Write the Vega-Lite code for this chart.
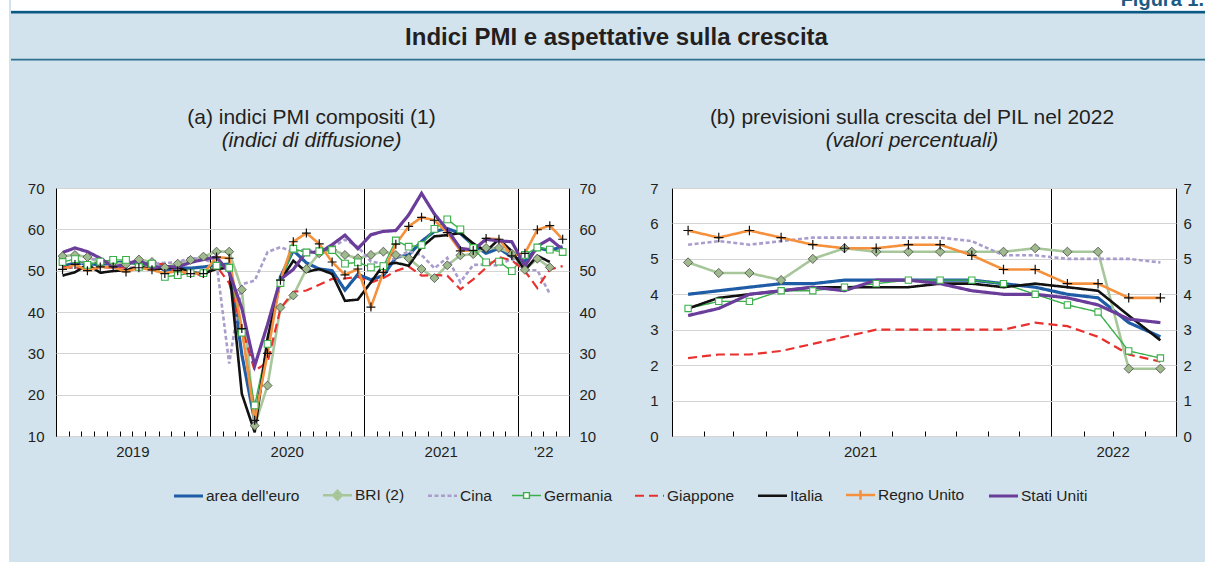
{
  "$schema": "https://vega.github.io/schema/vega-lite/v6.json",
  "background": "#d3e3ed",
  "padding": 0,
  "autosize": {"type": "pad"},
  "spacing": 0,
  "config": {
    "font": "Liberation Sans",
    "view": {"stroke": null},
    "axis": {"labelFont": "Liberation Sans", "labelFontSize": 15, "labelColor": "#231f20", "domain": false, "title": null},
    "title": {"font": "Liberation Sans", "fontSize": 21, "fontWeight": "normal", "color": "#231f20", "subtitleFont": "Liberation Sans", "subtitleFontSize": 21, "subtitleFontStyle": "italic", "subtitleColor": "#231f20", "subtitlePadding": 2, "offset": 30, "anchor": "middle", "frame": "group"}
  },
  "datasets": {
    "pmi": [
      {"d":"2019-01","euro":51.0,"bri":53.5,"cina":50.9,"ger":52.1,"jap":50.9,"ita":48.8,"uk":50.3,"us":54.4},
      {"d":"2019-02","euro":51.9,"bri":53.8,"cina":50.7,"ger":52.8,"jap":50.7,"ita":49.6,"uk":51.5,"us":55.5},
      {"d":"2019-03","euro":51.6,"bri":53.3,"cina":52.9,"ger":51.4,"jap":50.4,"ita":51.5,"uk":50.0,"us":54.6},
      {"d":"2019-04","euro":51.5,"bri":51.9,"cina":52.7,"ger":52.2,"jap":50.8,"ita":49.5,"uk":50.9,"us":53.0},
      {"d":"2019-05","euro":51.8,"bri":52.0,"cina":51.5,"ger":52.6,"jap":50.7,"ita":49.9,"uk":50.9,"us":50.9},
      {"d":"2019-06","euro":52.2,"bri":51.5,"cina":50.6,"ger":52.6,"jap":50.8,"ita":50.1,"uk":49.7,"us":51.5},
      {"d":"2019-07","euro":51.5,"bri":52.7,"cina":50.9,"ger":50.9,"jap":50.6,"ita":51.0,"uk":50.7,"us":52.6},
      {"d":"2019-08","euro":51.9,"bri":52.1,"cina":51.6,"ger":51.7,"jap":51.9,"ita":50.3,"uk":50.2,"us":50.7},
      {"d":"2019-09","euro":50.1,"bri":50.8,"cina":51.9,"ger":48.5,"jap":51.5,"ita":50.6,"uk":49.3,"us":51.0},
      {"d":"2019-10","euro":50.6,"bri":51.7,"cina":52.0,"ger":48.9,"jap":49.1,"ita":50.8,"uk":50.0,"us":50.9},
      {"d":"2019-11","euro":50.6,"bri":52.6,"cina":53.2,"ger":49.4,"jap":49.8,"ita":49.6,"uk":49.3,"us":52.0},
      {"d":"2019-12","euro":50.9,"bri":53.4,"cina":52.6,"ger":49.4,"jap":48.6,"ita":49.3,"uk":49.3,"us":52.7},
      {"d":"2020-01","euro":51.3,"bri":54.6,"cina":51.9,"ger":51.2,"jap":51.1,"ita":50.4,"uk":53.3,"us":53.3},
      {"d":"2020-02","euro":51.6,"bri":54.6,"cina":27.5,"ger":50.7,"jap":47.0,"ita":50.7,"uk":53.0,"us":49.6},
      {"d":"2020-03","euro":29.7,"bri":45.4,"cina":46.7,"ger":35.0,"jap":36.2,"ita":20.2,"uk":36.0,"us":40.9},
      {"d":"2020-04","euro":13.6,"bri":12.5,"cina":47.6,"ger":17.4,"jap":25.8,"ita":10.9,"uk":13.8,"us":27.0},
      {"d":"2020-05","euro":31.9,"bri":22.2,"cina":54.5,"ger":32.3,"jap":27.8,"ita":33.7,"uk":30.0,"us":37.0},
      {"d":"2020-06","euro":48.5,"bri":41.1,"cina":55.7,"ger":47.0,"jap":40.8,"ita":47.6,"uk":47.7,"us":47.9},
      {"d":"2020-07","euro":54.9,"bri":44.0,"cina":54.5,"ger":55.3,"jap":44.9,"ita":52.4,"uk":57.0,"us":50.3},
      {"d":"2020-08","euro":51.9,"bri":50.4,"cina":55.1,"ger":54.4,"jap":45.2,"ita":49.7,"uk":59.1,"us":54.6},
      {"d":"2020-09","euro":50.4,"bri":54.2,"cina":54.5,"ger":54.7,"jap":46.6,"ita":50.4,"uk":56.5,"us":54.3},
      {"d":"2020-10","euro":50.0,"bri":55.1,"cina":55.7,"ger":55.0,"jap":48.0,"ita":49.2,"uk":52.1,"us":56.3},
      {"d":"2020-11","euro":45.3,"bri":53.8,"cina":57.5,"ger":51.7,"jap":48.1,"ita":42.7,"uk":49.0,"us":58.6},
      {"d":"2020-12","euro":49.1,"bri":53.0,"cina":55.8,"ger":52.0,"jap":48.5,"ita":43.0,"uk":50.4,"us":55.3},
      {"d":"2021-01","euro":47.8,"bri":53.8,"cina":52.2,"ger":50.8,"jap":47.1,"ita":47.2,"uk":41.2,"us":58.7},
      {"d":"2021-02","euro":48.8,"bri":54.6,"cina":51.7,"ger":51.1,"jap":48.2,"ita":51.4,"uk":49.6,"us":59.5},
      {"d":"2021-03","euro":53.2,"bri":53.8,"cina":53.1,"ger":57.3,"jap":49.9,"ita":51.9,"uk":56.4,"us":59.7},
      {"d":"2021-04","euro":53.8,"bri":53.0,"cina":54.7,"ger":55.8,"jap":51.0,"ita":51.2,"uk":60.7,"us":63.5},
      {"d":"2021-05","euro":57.1,"bri":50.4,"cina":53.8,"ger":56.2,"jap":48.8,"ita":55.7,"uk":62.9,"us":68.7},
      {"d":"2021-06","euro":59.5,"bri":48.2,"cina":50.6,"ger":60.1,"jap":48.9,"ita":58.3,"uk":62.2,"us":63.7},
      {"d":"2021-07","euro":60.2,"bri":51.3,"cina":53.1,"ger":62.4,"jap":48.8,"ita":58.6,"uk":59.2,"us":59.9},
      {"d":"2021-08","euro":59.0,"bri":53.7,"cina":47.2,"ger":60.0,"jap":45.5,"ita":59.1,"uk":54.8,"us":55.4},
      {"d":"2021-09","euro":56.2,"bri":54.0,"cina":51.4,"ger":55.5,"jap":47.9,"ita":56.6,"uk":54.9,"us":55.0},
      {"d":"2021-10","euro":54.2,"bri":55.5,"cina":51.5,"ger":52.0,"jap":50.7,"ita":54.7,"uk":57.8,"us":57.6},
      {"d":"2021-11","euro":55.4,"bri":55.5,"cina":51.2,"ger":52.2,"jap":53.3,"ita":57.6,"uk":57.6,"us":57.2},
      {"d":"2021-12","euro":53.3,"bri":54.1,"cina":53.0,"ger":49.9,"jap":52.5,"ita":54.7,"uk":53.6,"us":57.0},
      {"d":"2022-01","euro":52.3,"bri":50.2,"cina":50.1,"ger":53.8,"jap":49.9,"ita":50.1,"uk":54.2,"us":51.1},
      {"d":"2022-02","euro":55.5,"bri":52.9,"cina":50.1,"ger":55.6,"jap":45.8,"ita":53.6,"uk":59.9,"us":55.9},
      {"d":"2022-03","euro":54.9,"bri":50.8,"cina":44.4,"ger":55.1,"jap":50.3,"ita":52.1,"uk":60.9,"us":57.7},
      {"d":"2022-04","euro":55.8,"bri":null,"cina":null,"ger":54.5,"jap":51.1,"ita":null,"uk":57.6,"us":55.1}
    ],
    "gdp": [
      {"d":"2021-01","euro":4.0,"bri":4.9,"cina":5.4,"ger":3.6,"jap":2.2,"ita":3.6,"uk":5.8,"us":3.4},
      {"d":"2021-02","euro":4.1,"bri":4.6,"cina":5.5,"ger":3.8,"jap":2.3,"ita":3.9,"uk":5.6,"us":3.6},
      {"d":"2021-03","euro":4.2,"bri":4.6,"cina":5.4,"ger":3.8,"jap":2.3,"ita":4.0,"uk":5.8,"us":4.0},
      {"d":"2021-04","euro":4.3,"bri":4.4,"cina":5.5,"ger":4.1,"jap":2.4,"ita":4.1,"uk":5.6,"us":4.1},
      {"d":"2021-05","euro":4.3,"bri":5.0,"cina":5.6,"ger":4.1,"jap":2.6,"ita":4.2,"uk":5.4,"us":4.2},
      {"d":"2021-06","euro":4.4,"bri":5.3,"cina":5.6,"ger":4.2,"jap":2.8,"ita":4.2,"uk":5.3,"us":4.1},
      {"d":"2021-07","euro":4.4,"bri":5.2,"cina":5.6,"ger":4.3,"jap":3.0,"ita":4.2,"uk":5.3,"us":4.4},
      {"d":"2021-08","euro":4.4,"bri":5.2,"cina":5.6,"ger":4.4,"jap":3.0,"ita":4.2,"uk":5.4,"us":4.4},
      {"d":"2021-09","euro":4.4,"bri":5.2,"cina":5.6,"ger":4.4,"jap":3.0,"ita":4.3,"uk":5.4,"us":4.3},
      {"d":"2021-10","euro":4.4,"bri":5.2,"cina":5.5,"ger":4.4,"jap":3.0,"ita":4.3,"uk":5.1,"us":4.1},
      {"d":"2021-11","euro":4.3,"bri":5.2,"cina":5.1,"ger":4.3,"jap":3.0,"ita":4.2,"uk":4.7,"us":4.0},
      {"d":"2021-12","euro":4.2,"bri":5.3,"cina":5.1,"ger":4.0,"jap":3.2,"ita":4.3,"uk":4.7,"us":4.0},
      {"d":"2022-01","euro":4.0,"bri":5.2,"cina":5.0,"ger":3.7,"jap":3.1,"ita":4.2,"uk":4.3,"us":3.9},
      {"d":"2022-02","euro":3.9,"bri":5.2,"cina":5.0,"ger":3.5,"jap":2.8,"ita":4.1,"uk":4.3,"us":3.7},
      {"d":"2022-03","euro":3.2,"bri":1.9,"cina":5.0,"ger":2.4,"jap":2.3,"ita":3.4,"uk":3.9,"us":3.3},
      {"d":"2022-04","euro":2.8,"bri":1.9,"cina":4.9,"ger":2.2,"jap":2.1,"ita":2.7,"uk":3.9,"us":3.2}
    ]
  },
  "hconcat": [
    {
      "width": 9, "height": 562,
      "view": {"fill": "white", "stroke": null},
      "data": {"values": []},
      "mark": "point"
    },
    {
      "concat": [
        {
          "width": 1151, "height": 106,
          "data": {"values": [{"label": "Figura 1."}]},
          "layer": [
            {"mark": {"type": "rect", "color": "white", "opacity": 1},
             "encoding": {
               "x": {"datum": 9, "type": "quantitative", "scale": {"domain": [54, 1205]}, "axis": null},
               "x2": {"datum": 1205},
               "y": {"datum": 0, "type": "quantitative", "scale": {"domain": [0, 106], "reverse": true}, "axis": null},
               "y2": {"datum": 10}}},
            {"mark": {"type": "text", "clip": true, "align": "right", "baseline": "alphabetic", "fontSize": 20, "fontWeight": "bold", "color": "#1c5b85"},
             "encoding": {
               "text": {"field": "label"},
               "x": {"datum": 1202, "type": "quantitative", "scale": {"domain": [54, 1205]}, "axis": null},
               "y": {"datum": 6, "type": "quantitative", "scale": {"domain": [0, 106], "reverse": true}, "axis": null}}},
            {"mark": {"type": "rule", "color": "#0b5a83", "strokeWidth": 2.6},
             "encoding": {
               "x": {"datum": 9, "type": "quantitative", "scale": {"domain": [54, 1205]}, "axis": null},
               "x2": {"datum": 1205},
               "y": {"datum": 12.2, "type": "quantitative", "scale": {"domain": [0, 106], "reverse": true}, "axis": null}}},
            {"mark": {"type": "rule", "color": "#2d6f8f", "strokeWidth": 1.6},
             "encoding": {
               "x": {"datum": 9, "type": "quantitative", "scale": {"domain": [54, 1205]}, "axis": null},
               "x2": {"datum": 1205},
               "y": {"datum": 59.6, "type": "quantitative", "scale": {"domain": [0, 106], "reverse": true}, "axis": null}}},
            {"mark": {"type": "text", "fontSize": 24, "fontWeight": "bold", "color": "#231f20", "baseline": "alphabetic", "align": "center"},
             "encoding": {
               "text": {"value": "Indici PMI e aspettative sulla crescita"},
               "x": {"datum": 614.5, "type": "quantitative", "scale": {"domain": [54, 1205]}, "axis": null},
               "y": {"datum": 45, "type": "quantitative", "scale": {"domain": [0, 106], "reverse": true}, "axis": null}}}
          ]
        },
        {
          "spacing": 0,
          "hconcat": [
            {
              "width": 513, "height": 248,
              "view": {"fill": "white", "stroke": "black", "strokeWidth": 1},
              "title": {"text": "(a) indici PMI compositi (1)", "subtitle": "(indici di diffusione)", "dx": -1},
              "data": {"name": "pmi"},
              "transform": [
                {"fold": ["euro", "bri", "cina", "ger", "jap", "ita", "uk", "us"], "as": ["s", "v"]},
                {"filter": "isValid(datum.v)"}
              ],
              "encoding": {
                "x": {"field": "d", "type": "temporal", "timeUnit": "utcyearmonth", "bandPosition": 0.5,
                  "scale": {"domain": [{"year": 2019, "month": 1, "date": 1, "utc": true}, {"year": 2022, "month": 5, "date": 1, "utc": true}], "nice": false},
                  "axis": {"title": null, "tickCount": {"interval": "month", "step": 1}, "labelExpr": "utcmonth(datum.value) === 6 && utcyear(datum.value) < 2022 ? utcFormat(datum.value, '%Y') : (utcyear(datum.value) === 2022 && utcmonth(datum.value) === 2 ? \"'22\" : '')", "labelOverlap": false, "labelFlush": false, "labelAngle": 0, "labelPadding": 13, "tickSize": -5, "tickColor": "black", "tickWidth": 1, "grid": true, "gridColor": {"condition": {"test": "utcmonth(datum.value) === 0", "value": "black"}, "value": "transparent"}, "gridWidth": 1}}
              },
              "layer": [
                {
                  "mark": {"type": "line"},
                  "encoding": {
                    "y": {"field": "v", "type": "quantitative", "scale": {"domain": [10, 70], "nice": false, "zero": false},
                      "axis": {"orient": "left", "title": null, "values": [10, 20, 30, 40, 50, 60, 70], "grid": true, "gridColor": "#d4d4d4", "gridWidth": 1, "ticks": false, "labelPadding": 12, "minExtent": 44, "maxExtent": 44}},
                    "stroke": {"field": "s", "type": "nominal", "scale": {"domain": ["euro", "bri", "cina", "ger", "jap", "ita", "uk", "us"], "range": ["#1f5ca6", "#a7c79a", "#a99dcc", "#3aaf4a", "#e8312f", "#111111", "#f5913d", "#6b3d9b"]},
                      "legend": {"orient": "none", "legendX": 172, "legendY": 479, "direction": "horizontal", "columns": 8, "title": null, "symbolSize": 841, "labelFontSize": 15.5, "labelFont": "Liberation Sans", "labelColor": "#231f20", "labelOffset": 1, "columnPadding": 17, "labelLimit": 0, "labelExpr": "datum.label === 'euro' ? \"area dell'euro\" : datum.label === 'bri' ? 'BRI (2)' : datum.label === 'cina' ? 'Cina' : datum.label === 'ger' ? 'Germania' : datum.label === 'jap' ? 'Giappone' : datum.label === 'ita' ? 'Italia' : datum.label === 'uk' ? 'Regno Unito' : 'Stati Uniti'"}},
                    "strokeDash": {"field": "s", "type": "nominal", "scale": {"domain": ["euro", "bri", "cina", "ger", "jap", "ita", "uk", "us"], "range": [[1, 0], [1, 0], [4, 2.5], [1, 0], [9, 5], [1, 0], [1, 0], [1, 0]]},
                      "legend": {"orient": "none", "legendX": 172, "legendY": 479, "direction": "horizontal", "columns": 8, "title": null, "symbolSize": 841, "labelFontSize": 15.5, "labelFont": "Liberation Sans", "labelColor": "#231f20", "labelOffset": 1, "columnPadding": 17, "labelLimit": 0, "labelExpr": "datum.label === 'euro' ? \"area dell'euro\" : datum.label === 'bri' ? 'BRI (2)' : datum.label === 'cina' ? 'Cina' : datum.label === 'ger' ? 'Germania' : datum.label === 'jap' ? 'Giappone' : datum.label === 'ita' ? 'Italia' : datum.label === 'uk' ? 'Regno Unito' : 'Stati Uniti'"}},
                    "strokeWidth": {"field": "s", "type": "nominal", "scale": {"type": "ordinal", "domain": ["euro", "bri", "cina", "ger", "jap", "ita", "uk", "us"], "range": [3.2, 2.6, 2.6, 1.4, 2.2, 2.6, 2.6, 3.2]},
                      "legend": {"orient": "none", "legendX": 172, "legendY": 479, "direction": "horizontal", "columns": 8, "title": null, "symbolSize": 841, "labelFontSize": 15.5, "labelFont": "Liberation Sans", "labelColor": "#231f20", "labelOffset": 1, "columnPadding": 17, "labelLimit": 0, "labelExpr": "datum.label === 'euro' ? \"area dell'euro\" : datum.label === 'bri' ? 'BRI (2)' : datum.label === 'cina' ? 'Cina' : datum.label === 'ger' ? 'Germania' : datum.label === 'jap' ? 'Giappone' : datum.label === 'ita' ? 'Italia' : datum.label === 'uk' ? 'Regno Unito' : 'Stati Uniti'"}}
                  }
                },
                {
                  "transform": [{"filter": "datum.s === 'bri'"}],
                  "mark": {"type": "point", "shape": "diamond", "size": 80, "filled": true, "fill": "#9fba8d", "stroke": "#4a4a4a", "strokeWidth": 0.8, "opacity": 1},
                  "encoding": {
                    "y": {"field": "v", "type": "quantitative", "scale": {"domain": [10, 70], "nice": false, "zero": false},
                      "axis": {"orient": "right", "title": null, "values": [10, 20, 30, 40, 50, 60, 70], "grid": false, "ticks": false, "labelPadding": 10, "minExtent": 40, "maxExtent": 40}}
                  }
                },
                {
                  "transform": [{"filter": "datum.s === 'ger'"}],
                  "mark": {"type": "point", "shape": "square", "size": 45, "filled": false, "fill": "white", "stroke": "#3aaf4a", "strokeWidth": 1.1, "opacity": 1},
                  "encoding": {"y": {"field": "v", "type": "quantitative", "scale": {"domain": [10, 70], "nice": false, "zero": false}, "axis": null}}
                },
                {
                  "transform": [{"filter": "datum.s === 'uk'"}],
                  "mark": {"type": "point", "shape": "M-1,0H1M0,-1V1", "size": 80, "filled": false, "stroke": "#111111", "strokeWidth": 1.2, "opacity": 1},
                  "encoding": {"y": {"field": "v", "type": "quantitative", "scale": {"domain": [10, 70], "nice": false, "zero": false}, "axis": null}}
                },
                {
                  "transform": [{"filter": "false"}],
                  "mark": {"type": "point", "filled": true, "opacity": 1},
                  "encoding": {
                    "y": {"field": "v", "type": "quantitative", "scale": {"domain": [10, 70], "nice": false, "zero": false}, "axis": null},
                    "fill": {"field": "s", "type": "nominal", "scale": {"domain": ["euro", "bri", "cina", "ger", "jap", "ita", "uk", "us"], "range": ["#1f5ca6", "#9fba8d", "#a99dcc", "#ffffff", "#e8312f", "#111111", "#f5913d", "#6b3d9b"]},
                      "legend": {"orient": "none", "legendX": 172, "legendY": 479, "direction": "horizontal", "columns": 8, "title": null, "symbolSize": 841, "labelFontSize": 15.5, "labelFont": "Liberation Sans", "labelColor": "#231f20", "labelOffset": 1, "columnPadding": 17, "labelLimit": 0, "labelExpr": "datum.label === 'euro' ? \"area dell'euro\" : datum.label === 'bri' ? 'BRI (2)' : datum.label === 'cina' ? 'Cina' : datum.label === 'ger' ? 'Germania' : datum.label === 'jap' ? 'Giappone' : datum.label === 'ita' ? 'Italia' : datum.label === 'uk' ? 'Regno Unito' : 'Stati Uniti'"}},
                    "stroke": {"field": "s", "type": "nominal", "scale": {"domain": ["euro", "bri", "cina", "ger", "jap", "ita", "uk", "us"], "range": ["#1f5ca6", "#a7c79a", "#a99dcc", "#3aaf4a", "#e8312f", "#111111", "#f5913d", "#6b3d9b"]},
                      "legend": {"orient": "none", "legendX": 172, "legendY": 479, "direction": "horizontal", "columns": 8, "title": null, "symbolSize": 841, "labelFontSize": 15.5, "labelFont": "Liberation Sans", "labelColor": "#231f20", "labelOffset": 1, "columnPadding": 17, "labelLimit": 0, "labelExpr": "datum.label === 'euro' ? \"area dell'euro\" : datum.label === 'bri' ? 'BRI (2)' : datum.label === 'cina' ? 'Cina' : datum.label === 'ger' ? 'Germania' : datum.label === 'jap' ? 'Giappone' : datum.label === 'ita' ? 'Italia' : datum.label === 'uk' ? 'Regno Unito' : 'Stati Uniti'"}},
                    "shape": {"field": "s", "type": "nominal", "scale": {"domain": ["euro", "bri", "cina", "ger", "jap", "ita", "uk", "us"], "range": ["M-1,0H1", "M-1,0H1M-0.3,0L0,-0.3L0.3,0L0,0.3Z", "M-1,0H1", "M-1,0H-0.2M0.2,0H1M-0.2,-0.2H0.2V0.2H-0.2Z", "M-1,0H1", "M-1,0H1", "M-1,0H1M0,-0.33V0.33", "M-1,0H1"]},
                      "legend": {"orient": "none", "legendX": 172, "legendY": 479, "direction": "horizontal", "columns": 8, "title": null, "symbolSize": 841, "labelFontSize": 15.5, "labelFont": "Liberation Sans", "labelColor": "#231f20", "labelOffset": 1, "columnPadding": 17, "labelLimit": 0, "labelExpr": "datum.label === 'euro' ? \"area dell'euro\" : datum.label === 'bri' ? 'BRI (2)' : datum.label === 'cina' ? 'Cina' : datum.label === 'ger' ? 'Germania' : datum.label === 'jap' ? 'Giappone' : datum.label === 'ita' ? 'Italia' : datum.label === 'uk' ? 'Regno Unito' : 'Stati Uniti'"}},
                    "strokeDash": {"field": "s", "type": "nominal", "scale": {"domain": ["euro", "bri", "cina", "ger", "jap", "ita", "uk", "us"], "range": [[1, 0], [1, 0], [4, 2.5], [1, 0], [9, 5], [1, 0], [1, 0], [1, 0]]},
                      "legend": {"orient": "none", "legendX": 172, "legendY": 479, "direction": "horizontal", "columns": 8, "title": null, "symbolSize": 841, "labelFontSize": 15.5, "labelFont": "Liberation Sans", "labelColor": "#231f20", "labelOffset": 1, "columnPadding": 17, "labelLimit": 0, "labelExpr": "datum.label === 'euro' ? \"area dell'euro\" : datum.label === 'bri' ? 'BRI (2)' : datum.label === 'cina' ? 'Cina' : datum.label === 'ger' ? 'Germania' : datum.label === 'jap' ? 'Giappone' : datum.label === 'ita' ? 'Italia' : datum.label === 'uk' ? 'Regno Unito' : 'Stati Uniti'"}},
                    "strokeWidth": {"field": "s", "type": "nominal", "scale": {"type": "ordinal", "domain": ["euro", "bri", "cina", "ger", "jap", "ita", "uk", "us"], "range": [3.2, 2.6, 2.6, 1.4, 2.2, 2.6, 2.6, 3.2]},
                      "legend": {"orient": "none", "legendX": 172, "legendY": 479, "direction": "horizontal", "columns": 8, "title": null, "symbolSize": 841, "labelFontSize": 15.5, "labelFont": "Liberation Sans", "labelColor": "#231f20", "labelOffset": 1, "columnPadding": 17, "labelLimit": 0, "labelExpr": "datum.label === 'euro' ? \"area dell'euro\" : datum.label === 'bri' ? 'BRI (2)' : datum.label === 'cina' ? 'Cina' : datum.label === 'ger' ? 'Germania' : datum.label === 'jap' ? 'Giappone' : datum.label === 'ita' ? 'Italia' : datum.label === 'uk' ? 'Regno Unito' : 'Stati Uniti'"}}
                  }
                }
              ],
              "resolve": {"axis": {"y": "independent"}}
            },
            {
              "width": 504, "height": 248,
              "view": {"fill": "white", "stroke": "black", "strokeWidth": 1},
              "title": {"text": "(b) previsioni sulla crescita del PIL nel 2022", "subtitle": "(valori percentuali)", "dx": -12},
              "data": {"name": "gdp"},
              "transform": [
                {"fold": ["euro", "bri", "cina", "ger", "jap", "ita", "uk", "us"], "as": ["s", "v"]},
                {"filter": "isValid(datum.v)"}
              ],
              "encoding": {
                "x": {"field": "d", "type": "temporal", "timeUnit": "utcyearmonth", "bandPosition": 0.5,
                  "scale": {"domain": [{"year": 2021, "month": 1, "date": 1, "utc": true}, {"year": 2022, "month": 5, "date": 1, "utc": true}], "nice": false},
                  "axis": {"title": null, "tickCount": {"interval": "month", "step": 1}, "labelExpr": "utcmonth(datum.value) === 6 && utcyear(datum.value) === 2021 ? '2021' : (utcyear(datum.value) === 2022 && utcmonth(datum.value) === 2 ? '2022' : '')", "labelOverlap": false, "labelFlush": false, "labelAngle": 0, "labelPadding": 13, "tickSize": -5, "tickColor": "black", "tickWidth": 1, "grid": true, "gridColor": {"condition": {"test": "utcmonth(datum.value) === 0 && utcyear(datum.value) === 2022", "value": "black"}, "value": "transparent"}, "gridWidth": 1}}
              },
              "layer": [
                {
                  "mark": {"type": "line"},
                  "encoding": {
                    "y": {"field": "v", "type": "quantitative", "scale": {"domain": [0, 7], "nice": false},
                      "axis": {"orient": "left", "title": null, "values": [0, 1, 2, 3, 4, 5, 6, 7], "grid": true, "gridColor": "#d4d4d4", "gridWidth": 1, "ticks": false, "labelPadding": 14, "minExtent": 61, "maxExtent": 61}},
                    "stroke": {"field": "s", "type": "nominal", "scale": {"domain": ["euro", "bri", "cina", "ger", "jap", "ita", "uk", "us"], "range": ["#1f5ca6", "#a7c79a", "#a99dcc", "#3aaf4a", "#e8312f", "#111111", "#f5913d", "#6b3d9b"]},
                      "legend": {"orient": "none", "legendX": 172, "legendY": 479, "direction": "horizontal", "columns": 8, "title": null, "symbolSize": 841, "labelFontSize": 15.5, "labelFont": "Liberation Sans", "labelColor": "#231f20", "labelOffset": 1, "columnPadding": 17, "labelLimit": 0, "labelExpr": "datum.label === 'euro' ? \"area dell'euro\" : datum.label === 'bri' ? 'BRI (2)' : datum.label === 'cina' ? 'Cina' : datum.label === 'ger' ? 'Germania' : datum.label === 'jap' ? 'Giappone' : datum.label === 'ita' ? 'Italia' : datum.label === 'uk' ? 'Regno Unito' : 'Stati Uniti'"}},
                    "strokeDash": {"field": "s", "type": "nominal", "scale": {"domain": ["euro", "bri", "cina", "ger", "jap", "ita", "uk", "us"], "range": [[1, 0], [1, 0], [4, 2.5], [1, 0], [9, 5], [1, 0], [1, 0], [1, 0]]},
                      "legend": {"orient": "none", "legendX": 172, "legendY": 479, "direction": "horizontal", "columns": 8, "title": null, "symbolSize": 841, "labelFontSize": 15.5, "labelFont": "Liberation Sans", "labelColor": "#231f20", "labelOffset": 1, "columnPadding": 17, "labelLimit": 0, "labelExpr": "datum.label === 'euro' ? \"area dell'euro\" : datum.label === 'bri' ? 'BRI (2)' : datum.label === 'cina' ? 'Cina' : datum.label === 'ger' ? 'Germania' : datum.label === 'jap' ? 'Giappone' : datum.label === 'ita' ? 'Italia' : datum.label === 'uk' ? 'Regno Unito' : 'Stati Uniti'"}},
                    "strokeWidth": {"field": "s", "type": "nominal", "scale": {"type": "ordinal", "domain": ["euro", "bri", "cina", "ger", "jap", "ita", "uk", "us"], "range": [3.2, 2.6, 2.6, 1.4, 2.2, 2.6, 2.6, 3.2]},
                      "legend": {"orient": "none", "legendX": 172, "legendY": 479, "direction": "horizontal", "columns": 8, "title": null, "symbolSize": 841, "labelFontSize": 15.5, "labelFont": "Liberation Sans", "labelColor": "#231f20", "labelOffset": 1, "columnPadding": 17, "labelLimit": 0, "labelExpr": "datum.label === 'euro' ? \"area dell'euro\" : datum.label === 'bri' ? 'BRI (2)' : datum.label === 'cina' ? 'Cina' : datum.label === 'ger' ? 'Germania' : datum.label === 'jap' ? 'Giappone' : datum.label === 'ita' ? 'Italia' : datum.label === 'uk' ? 'Regno Unito' : 'Stati Uniti'"}}
                  }
                },
                {
                  "transform": [{"filter": "datum.s === 'bri'"}],
                  "mark": {"type": "point", "shape": "diamond", "size": 85, "filled": true, "fill": "#9fba8d", "stroke": "#4a4a4a", "strokeWidth": 0.8, "opacity": 1},
                  "encoding": {
                    "y": {"field": "v", "type": "quantitative", "scale": {"domain": [0, 7], "nice": false},
                      "axis": {"orient": "right", "title": null, "values": [0, 1, 2, 3, 4, 5, 6, 7], "grid": false, "ticks": false, "labelPadding": 7, "minExtent": 29, "maxExtent": 29}}
                  }
                },
                {
                  "transform": [{"filter": "datum.s === 'ger'"}],
                  "mark": {"type": "point", "shape": "square", "size": 40, "filled": false, "fill": "white", "stroke": "#3aaf4a", "strokeWidth": 1.1, "opacity": 1},
                  "encoding": {"y": {"field": "v", "type": "quantitative", "scale": {"domain": [0, 7], "nice": false}, "axis": null}}
                },
                {
                  "transform": [{"filter": "datum.s === 'uk'"}],
                  "mark": {"type": "point", "shape": "M-1,0H1M0,-1V1", "size": 90, "filled": false, "stroke": "#111111", "strokeWidth": 1.2, "opacity": 1},
                  "encoding": {"y": {"field": "v", "type": "quantitative", "scale": {"domain": [0, 7], "nice": false}, "axis": null}}
                }
              ],
              "resolve": {"axis": {"y": "independent"}}
            }
          ]
        }
      ],
      "columns": 1,
      "spacing": 0
    }
  ]
}
